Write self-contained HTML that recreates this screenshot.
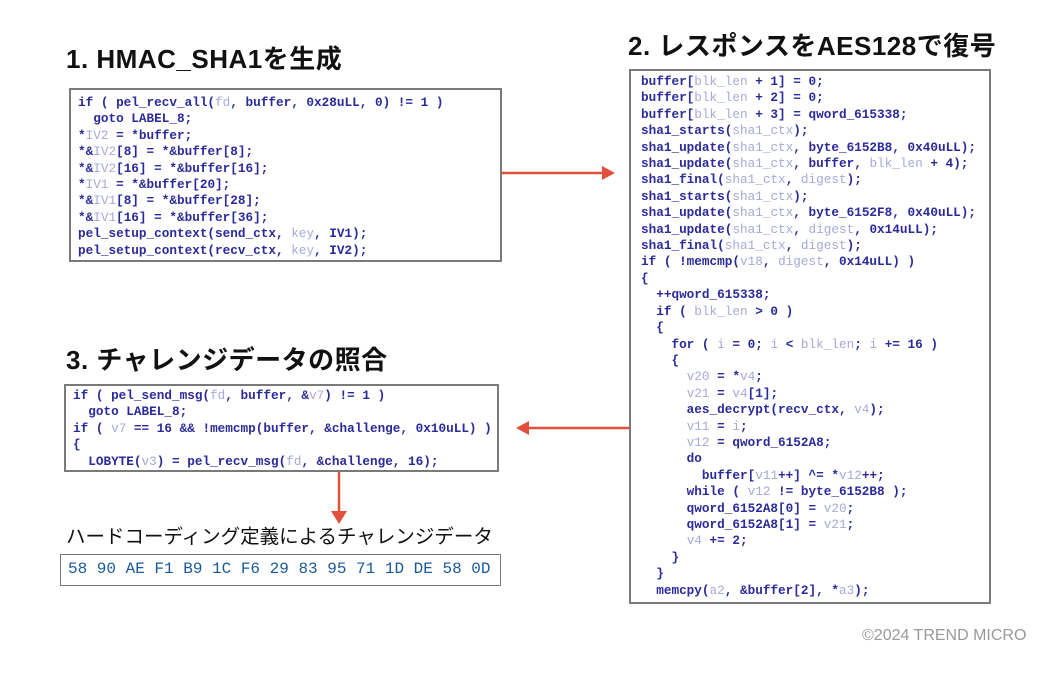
<!DOCTYPE html>
<html><head><meta charset="utf-8"><style>
body{margin:0;width:1058px;height:673px;background:#fff;position:relative;overflow:hidden;font-family:"Liberation Sans","Noto Sans CJK JP",sans-serif}
.t{position:absolute;font-weight:bold;font-size:26px;line-height:30px;color:#111;white-space:nowrap;letter-spacing:0.5px}
.box{position:absolute;border:2px solid #7a7a7a;box-sizing:border-box;background:#fff}
pre{margin:0;font-family:"Liberation Mono",monospace;font-size:12.7px;line-height:16.4px;color:#2a2a9a;font-weight:bold;position:absolute;white-space:pre}
.v{color:#a8a8d8;font-weight:normal}
</style></head><body>
<div class="t" style="left:66px;top:44px">1. HMAC_SHA1を生成</div>
<div class="t" style="left:628px;top:31px">2. レスポンスをAES128で復号</div>
<div class="t" style="left:66px;top:345px">3. チャレンジデータの照合</div>

<div class="box" style="left:69px;top:88px;width:433px;height:174px">
<pre style="left:7px;top:5px">if ( pel_recv_all(<span class="v">fd</span>, buffer, 0x28uLL, 0) != 1 )
  goto LABEL_8;
*<span class="v">IV2</span> = *buffer;
*&amp;<span class="v">IV2</span>[8] = *&amp;buffer[8];
*&amp;<span class="v">IV2</span>[16] = *&amp;buffer[16];
*<span class="v">IV1</span> = *&amp;buffer[20];
*&amp;<span class="v">IV1</span>[8] = *&amp;buffer[28];
*&amp;<span class="v">IV1</span>[16] = *&amp;buffer[36];
pel_setup_context(send_ctx, <span class="v">key</span>, IV1);
pel_setup_context(recv_ctx, <span class="v">key</span>, IV2);</pre>
</div>

<div class="box" style="left:629px;top:69px;width:362px;height:535px">
<pre style="left:10px;top:3px">buffer[<span class="v">blk_len</span> + 1] = 0;
buffer[<span class="v">blk_len</span> + 2] = 0;
buffer[<span class="v">blk_len</span> + 3] = qword_615338;
sha1_starts(<span class="v">sha1_ctx</span>);
sha1_update(<span class="v">sha1_ctx</span>, byte_6152B8, 0x40uLL);
sha1_update(<span class="v">sha1_ctx</span>, buffer, <span class="v">blk_len</span> + 4);
sha1_final(<span class="v">sha1_ctx</span>, <span class="v">digest</span>);
sha1_starts(<span class="v">sha1_ctx</span>);
sha1_update(<span class="v">sha1_ctx</span>, byte_6152F8, 0x40uLL);
sha1_update(<span class="v">sha1_ctx</span>, <span class="v">digest</span>, 0x14uLL);
sha1_final(<span class="v">sha1_ctx</span>, <span class="v">digest</span>);
if ( !memcmp(<span class="v">v18</span>, <span class="v">digest</span>, 0x14uLL) )
{
  ++qword_615338;
  if ( <span class="v">blk_len</span> &gt; 0 )
  {
    for ( <span class="v">i</span> = 0; <span class="v">i</span> &lt; <span class="v">blk_len</span>; <span class="v">i</span> += 16 )
    {
      <span class="v">v20</span> = *<span class="v">v4</span>;
      <span class="v">v21</span> = <span class="v">v4</span>[1];
      aes_decrypt(recv_ctx, <span class="v">v4</span>);
      <span class="v">v11</span> = <span class="v">i</span>;
      <span class="v">v12</span> = qword_6152A8;
      do
        buffer[<span class="v">v11</span>++] ^= *<span class="v">v12</span>++;
      while ( <span class="v">v12</span> != byte_6152B8 );
      qword_6152A8[0] = <span class="v">v20</span>;
      qword_6152A8[1] = <span class="v">v21</span>;
      <span class="v">v4</span> += 2;
    }
  }
  memcpy(<span class="v">a2</span>, &amp;buffer[2], *<span class="v">a3</span>);</pre>
</div>

<div class="box" style="left:64px;top:384px;width:435px;height:88px">
<pre style="left:7px;top:2px">if ( pel_send_msg(<span class="v">fd</span>, buffer, &amp;<span class="v">v7</span>) != 1 )
  goto LABEL_8;
if ( <span class="v">v7</span> == 16 &amp;&amp; !memcmp(buffer, &amp;challenge, 0x10uLL) )
{
  LOBYTE(<span class="v">v3</span>) = pel_recv_msg(<span class="v">fd</span>, &amp;challenge, 16);</pre>
</div>

<div style="position:absolute;left:66px;top:526px;font-size:19.5px;line-height:22px;color:#111;white-space:nowrap">ハードコーディング定義によるチャレンジデータ</div>
<div class="box" style="left:60px;top:554px;width:441px;height:32px;border-width:1.5px">
<div style="position:absolute;left:7px;top:5px;font-family:'Liberation Mono',monospace;font-size:16px;color:#1a5a9a;white-space:pre">58 90 AE F1 B9 1C F6 29 83 95 71 1D DE 58 0D</div>
</div>

<svg style="position:absolute;left:0;top:0" width="1058" height="673">
<g fill="#e0503a" stroke="#e0503a">
<line x1="502" y1="173" x2="604" y2="173" stroke-width="2.5"/>
<polygon points="615,173 602,166 602,180" stroke="none"/>
<line x1="629" y1="428" x2="528" y2="428" stroke-width="2.5"/>
<polygon points="516,428 529,421 529,435" stroke="none"/>
<line x1="339" y1="472" x2="339" y2="512" stroke-width="2.5"/>
<polygon points="339,524 331,511 347,511" stroke="none"/>
</g>
</svg>
<div style="position:absolute;left:862px;top:627px;font-size:16px;color:#999;white-space:nowrap">©2024 TREND MICRO</div>
</body></html>
